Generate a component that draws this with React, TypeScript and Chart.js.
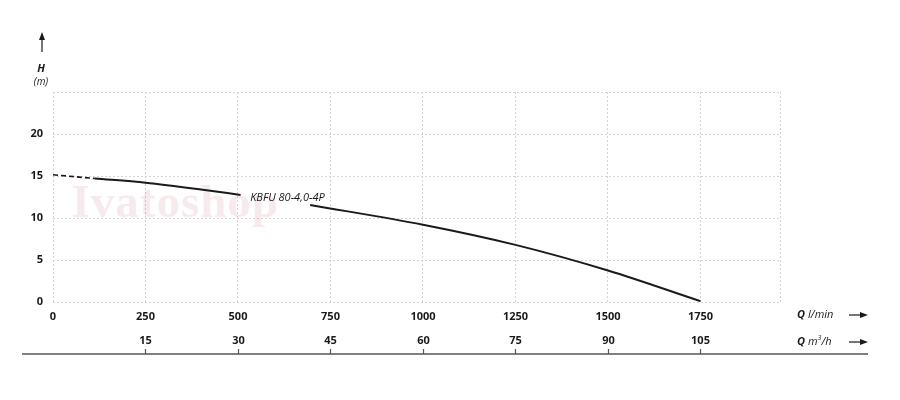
import React, { useEffect, useRef } from "react";
import { Chart, registerables } from "chart.js";

Chart.register(...registerables);

// Flow (l/min) and head (m)
const dashedQ = [0, 113];
const dashedH = [15.15, 14.7];
const solidQ1 = [113, 250, 400, 507];
const solidH1 = [14.7, 14.2, 13.4, 12.75];
const solidQ2 = [695, 1000, 1250, 1500, 1750];
const solidH2 = [11.55, 9.2, 6.8, 3.75, 0.1];

const qTicks = [0, 250, 500, 750, 1000, 1250, 1500, 1750];
const qMax = 1965;
const hTicks = [0, 5, 10, 15, 20];
const hMax = 25;
const m3hTicks = [15, 30, 45, 60, 75, 90, 105];

const curveLabel = "KBFU 80-4,0-4P";
const watermark = "Ivatoshop";

const toPts = (xs: number[], ys: number[]) => xs.map((x, i) => ({ x, y: ys[i] }));

const GRID = "#d4d4d4";
const INK = "#1a1a1a";
const FONT = "'Open Sans', 'DejaVu Sans', sans-serif";

const extras = {
  id: "extras",
  beforeDatasetsDraw(chart: any) {
    const { ctx } = chart;
    const x = chart.scales.x;
    const y = chart.scales.y;
    ctx.save();
    ctx.fillStyle = "rgba(214,150,160,0.2)";
    ctx.font = `bold 47px 'Liberation Serif', 'DejaVu Serif', serif`;
    ctx.textBaseline = "alphabetic";
    ctx.textAlign = "left";
    (ctx as any).letterSpacing = "1px";
    ctx.fillText(watermark, x.getPixelForValue(50), y.getPixelForValue(10.1));
    ctx.restore();
  },
  afterDatasetsDraw(chart: any) {
    const { ctx } = chart;
    const x = chart.scales.x;
    const x2 = chart.scales.x2;
    const y = chart.scales.y;
    ctx.save();
    // curve label
    ctx.fillStyle = INK;
    ctx.font = `italic 11px ${FONT}`;
    ctx.textAlign = "left";
    ctx.textBaseline = "middle";
    ctx.fillText(curveLabel, x.getPixelForValue(533), y.getPixelForValue(12.4));

    // y header: arrow, H, (m)
    const ax = 42;
    ctx.strokeStyle = INK;
    ctx.fillStyle = INK;
    ctx.lineWidth = 1.2;
    ctx.beginPath();
    ctx.moveTo(ax, 52);
    ctx.lineTo(ax, 38);
    ctx.stroke();
    ctx.beginPath();
    ctx.moveTo(ax, 32);
    ctx.lineTo(ax - 3, 40);
    ctx.lineTo(ax + 3, 40);
    ctx.closePath();
    ctx.fill();
    ctx.textAlign = "center";
    ctx.font = `italic bold 11px ${FONT}`;
    ctx.fillText("H", ax - 1, 69);
    ctx.font = `italic 10px ${FONT}`;
    ctx.fillText("(m)", ax - 1, 82);

    // secondary axis (m3/h)
    const ly = 354;
    ctx.strokeStyle = "#555";
    ctx.lineWidth = 1.6;
    ctx.beginPath();
    ctx.moveTo(22, ly);
    ctx.lineTo(868, ly);
    ctx.stroke();
    ctx.lineWidth = 1.2;
    ctx.font = `bold 11px ${FONT}`;
    ctx.fillStyle = INK;
    ctx.textAlign = "center";
    m3hTicks.forEach((v) => {
      const px = Math.round(x2.getPixelForValue(v)) + 0.5;
      ctx.beginPath();
      ctx.moveTo(px, ly);
      ctx.lineTo(px, ly - 5);
      ctx.stroke();
      ctx.fillText(String(v), px, 341);
    });

    // right side unit labels with arrows
    const drawUnit = (yy: number, unit: string, sup?: string, rest?: string) => {
      ctx.textAlign = "left";
      ctx.font = `italic bold 11px ${FONT}`;
      let cx = 797;
      ctx.fillText("Q", cx, yy);
      cx += ctx.measureText("Q").width + 3;
      ctx.font = `italic 11px ${FONT}`;
      ctx.fillText(unit, cx, yy);
      cx += ctx.measureText(unit).width;
      if (sup) {
        ctx.font = `italic 7px ${FONT}`;
        ctx.fillText(sup, cx, yy - 4);
        cx += ctx.measureText(sup).width;
        ctx.font = `italic 11px ${FONT}`;
        ctx.fillText(rest || "", cx, yy);
      }
      ctx.strokeStyle = INK;
      ctx.lineWidth = 1.2;
      ctx.beginPath();
      ctx.moveTo(849, yy);
      ctx.lineTo(862, yy);
      ctx.stroke();
      ctx.beginPath();
      ctx.moveTo(868, yy);
      ctx.lineTo(860, yy - 3);
      ctx.lineTo(860, yy + 3);
      ctx.closePath();
      ctx.fill();
    };
    ctx.textBaseline = "middle";
    drawUnit(315, "l/min");
    drawUnit(342, "m", "3", "/h");
    ctx.restore();
  },
};

export default function App() {
  const ref = useRef<HTMLCanvasElement | null>(null);
  useEffect(() => {
    if (!ref.current) return;
    const lineBase = {
      borderColor: INK,
      borderWidth: 2,
      pointRadius: 0,
      fill: false,
      cubicInterpolationMode: "monotone" as const,
    };
    const chart = new Chart(ref.current, {
      type: "line",
      data: {
        datasets: [
          { ...lineBase, label: "dashed", data: toPts(dashedQ, dashedH), borderDash: [5, 3], borderWidth: 1.6 },
          { ...lineBase, label: "a", data: toPts(solidQ1, solidH1) },
          { ...lineBase, label: "b", data: toPts(solidQ2, solidH2) },
        ],
      },
      options: {
        animation: false,
        responsive: false,
        maintainAspectRatio: false,
        layout: { padding: { top: 92, right: 120, left: 0, bottom: 0 } },
        plugins: { legend: { display: false }, tooltip: { enabled: false } },
        scales: {
          x: {
            type: "linear",
            min: 0,
            max: qMax,
            afterBuildTicks: (s: any) => {
              s.ticks = [...qTicks, qMax].map((v) => ({ value: v }));
            },
            afterFit: (s: any) => {
              s.height = 98;
            },
            ticks: {
              padding: 8,
              maxRotation: 0,
              autoSkip: false,
              color: INK,
              font: { family: FONT, size: 11, weight: "bold" },
              callback: (v: any) => (v === qMax ? "" : String(v)),
            },
            grid: { color: GRID, lineWidth: 1, drawTicks: false },
            border: { display: false, dash: [2, 2] },
          },
          x2: {
            type: "linear",
            display: false,
            min: 0,
            max: (qMax * 60) / 1000,
          },
          y: {
            type: "linear",
            min: 0,
            max: hMax,
            afterBuildTicks: (s: any) => {
              s.ticks = [...hTicks, hMax].map((v) => ({ value: v }));
            },
            afterFit: (s: any) => {
              s.width = 53;
            },
            ticks: {
              padding: 10,
              color: INK,
              font: { family: FONT, size: 11, weight: "bold" },
              callback: (v: any) => (v === hMax ? "" : String(v)),
            },
            grid: { color: GRID, lineWidth: 1, drawTicks: false },
            border: { display: false, dash: [2, 2] },
          },
        },
      },
      plugins: [extras],
    });
    return () => chart.destroy();
  }, []);
  return (
    <div style={{ position: "fixed", left: 0, top: 0, width: 900, height: 400, background: "#fff" }}>
      <canvas ref={ref} width={900} height={400} style={{ width: 900, height: 400 }} />
    </div>
  );
}
